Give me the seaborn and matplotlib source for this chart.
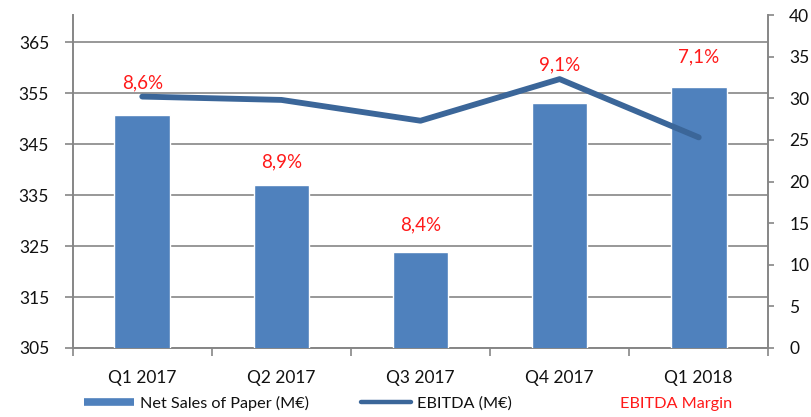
import numpy as np
import pandas as pd
import matplotlib
matplotlib.use("Agg")
import matplotlib.pyplot as plt
import seaborn as sns
from matplotlib.lines import Line2D

# ---- data ----
quarters = ["Q1 2017", "Q2 2017", "Q3 2017", "Q4 2017", "Q1 2018"]
net_sales = [350.7, 337.0, 323.9, 353.2, 356.2]      # left axis (M€)
ebitda = [30.2, 29.8, 27.3, 32.3, 25.3]              # right axis (M€)
ebitda_margin = [8.6, 8.9, 8.4, 9.1, 7.1]            # %
left_ticks = [305, 315, 325, 335, 345, 355, 365]
right_ticks = [0, 5, 10, 15, 20, 25, 30, 35, 40]

# layout: label heights on the right axis scale
label_y = [31.9, 22.3, 14.8, 34.0, 35.0]

sns.set_theme(style="white")
plt.rcParams["font.family"] = ["Lato", "DejaVu Sans"]

BAR = "#4F81BD"
LINE = "#3B6699"
GRID = "#868686"
RED = "#FF1A1A"

fig = plt.figure(figsize=(8.11, 4.17), dpi=100)
ax = fig.add_axes([72.7 / 811, (417 - 348) / 417, (768.3 - 72.7) / 811, (348 - 15) / 417])

df = pd.DataFrame({"quarter": quarters, "sales": net_sales})
sns.barplot(data=df, x="quarter", y="sales", color=BAR, saturation=1, width=0.4, ax=ax, zorder=3)
ax.set_ylim(305, 370.4)
ax.set_xlim(-0.5, len(quarters) - 0.5)
ax.set_yticks(left_ticks)
ax.yaxis.grid(True, color=GRID, linewidth=1.2, zorder=0)
ax.set_axisbelow(True)
ax.set_xlabel("")
ax.set_ylabel("")

# x ticks at category boundaries, labels at centres
ax.set_xticks(np.arange(-0.5, len(quarters), 1.0))
ax.set_xticklabels([])
ax.set_xticks(np.arange(len(quarters)), minor=True)
ax.set_xticklabels(quarters, minor=True, fontsize=12.5, color="#111111")
ax.tick_params(axis="x", which="major", direction="out", length=6, width=1.2, color=GRID, bottom=True)
ax.tick_params(axis="x", which="minor", length=0, pad=16)
ax.tick_params(axis="y", direction="out", length=6, width=1.2, color=GRID, left=True,
               labelsize=12.5, labelcolor="#111111", pad=11)

for s in ["top", "right"]:
    ax.spines[s].set_visible(False)
for s in ["left", "bottom"]:
    ax.spines[s].set_color(GRID)
    ax.spines[s].set_linewidth(1.4)

ax2 = ax.twinx()
sns.lineplot(x=np.arange(len(quarters)), y=ebitda, ax=ax2, color=LINE, linewidth=4.2,
             solid_capstyle="round", solid_joinstyle="round", zorder=5)
ax2.set_ylim(0, 40)
ax2.set_yticks(right_ticks)
ax2.set_ylabel("")
ax2.grid(False)
ax2.tick_params(axis="y", direction="out", length=4, width=1.2, color=GRID, right=True,
                labelsize=12.5, labelcolor="#111111", pad=11)
for s in ["top", "left", "bottom"]:
    ax2.spines[s].set_visible(False)
ax2.spines["right"].set_color(GRID)
ax2.spines["right"].set_linewidth(1.4)

for i, (m, yy) in enumerate(zip(ebitda_margin, label_y)):
    ax2.text(i, yy, f"{m:.1f}%".replace(".", ","), ha="center", va="center",
             color=RED, fontsize=13.5)

handles = [
    Line2D([0], [0], color=BAR, linewidth=5.5, solid_capstyle="butt"),
    Line2D([0], [0], color=LINE, linewidth=3.2, solid_capstyle="round"),
    Line2D([0], [0], color="none", linewidth=0),
]
leg = fig.legend(handles, ["Net Sales of Paper (M€)", "EBITDA (M€)", "EBITDA Margin"],
                 loc="center left", bbox_to_anchor=(84 / 811, 1 - 403 / 417), ncol=3,
                 frameon=False, fontsize=11.7, handlelength=3.1, handletextpad=0.35,
                 columnspacing=3.2, borderpad=0, borderaxespad=0)
for t in leg.get_texts():
    t.set_color("#111111")
leg.get_texts()[2].set_color(RED)

fig.savefig("out.png", dpi=100)
